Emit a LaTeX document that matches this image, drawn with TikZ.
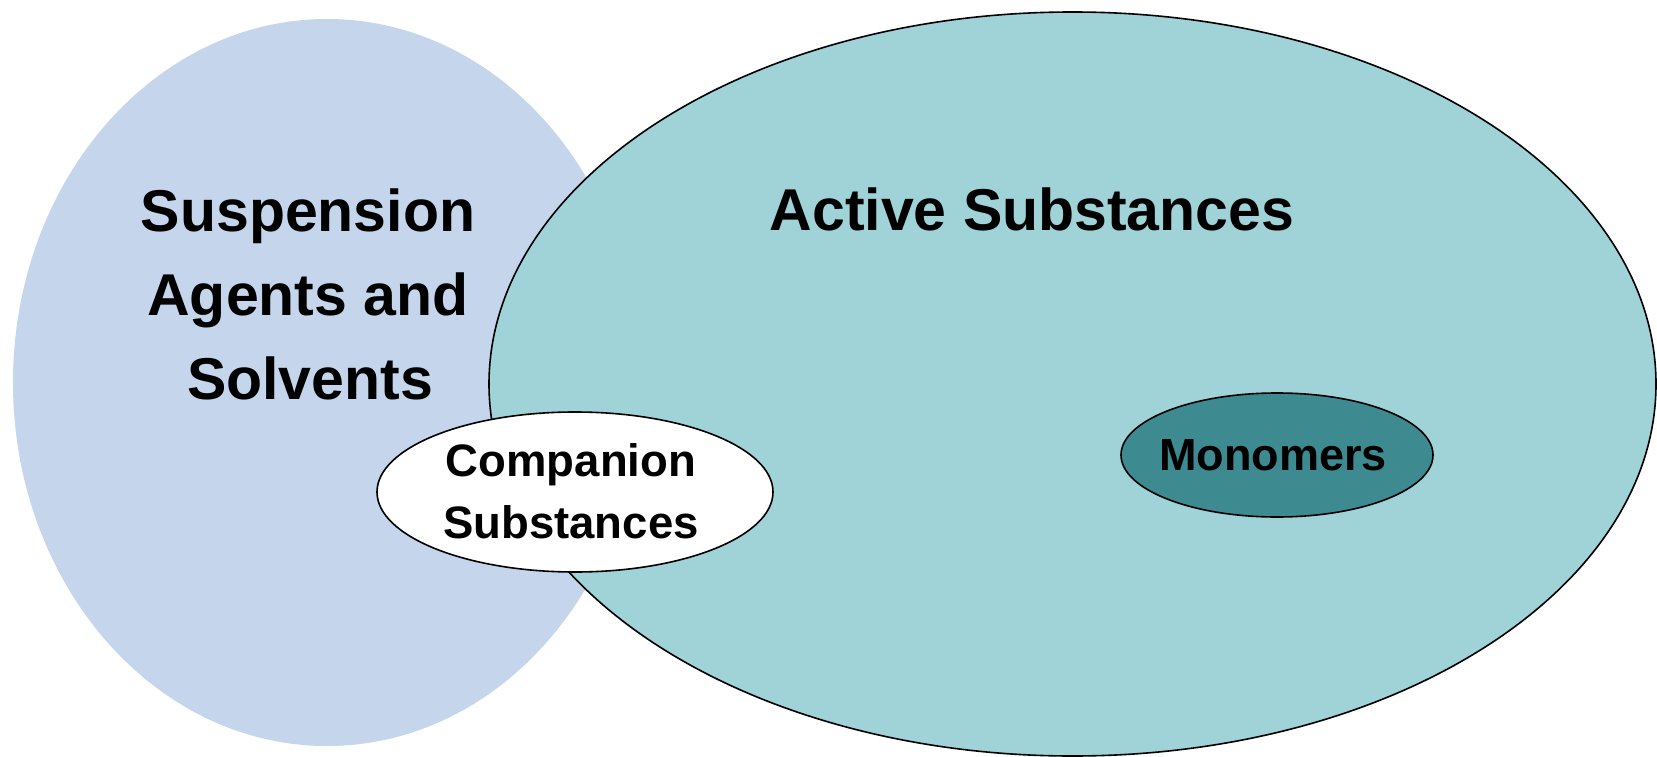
\documentclass[tikz,border=0pt]{standalone}
\usepackage{fontspec}
\setmainfont{Liberation Sans}
\definecolor{leftblue}{HTML}{C5D5EB}
\definecolor{activeteal}{HTML}{9FD3D8}
\definecolor{monoteal}{HTML}{3D8A91}
\tikzset{
  outline/.style={draw=black, line width=1.6pt},
  bigtext/.style={font=\bfseries\fontsize{59}{84}\selectfont, text=black, inner sep=0pt},
  midtext/.style={font=\bfseries\fontsize{45.5}{62}\selectfont, text=black, inner sep=0pt},
}
\begin{document}
\begin{tikzpicture}[x=1pt,y=-1pt]
\useasboundingbox (0,0) rectangle (1657,757);
% left ellipse
\fill[leftblue] (327,382.5) ellipse [x radius=314pt, y radius=363.5pt];
% big ellipse
\filldraw[fill=activeteal, outline] (1072.5,384) ellipse [x radius=583.5pt, y radius=372pt];
% companion
\filldraw[fill=white, outline] (575,492) ellipse [x radius=198pt, y radius=80pt];
% monomers
\filldraw[fill=monoteal, outline] (1277,455) ellipse [x radius=156pt, y radius=62pt];
% texts
\node[bigtext, anchor=base] (susp1) at (308,231) {Suspension};
\node[bigtext, anchor=base] (susp2) at (308,315.5) {Agents and};
\node[bigtext, anchor=base] (susp3) at (310,399.5) {Solvents};
\node[bigtext, anchor=base] (active) at (1032,230) {Active Substances};
\node[midtext, anchor=base] (comp1) at (571,476) {Companion};
\node[midtext, anchor=base] (comp2) at (571,538) {Substances};
\node[font=\bfseries\fontsize{45}{50}\selectfont, inner sep=0pt, anchor=base] (mono) at (1273,470) {Monomers};
\end{tikzpicture}
\end{document}
